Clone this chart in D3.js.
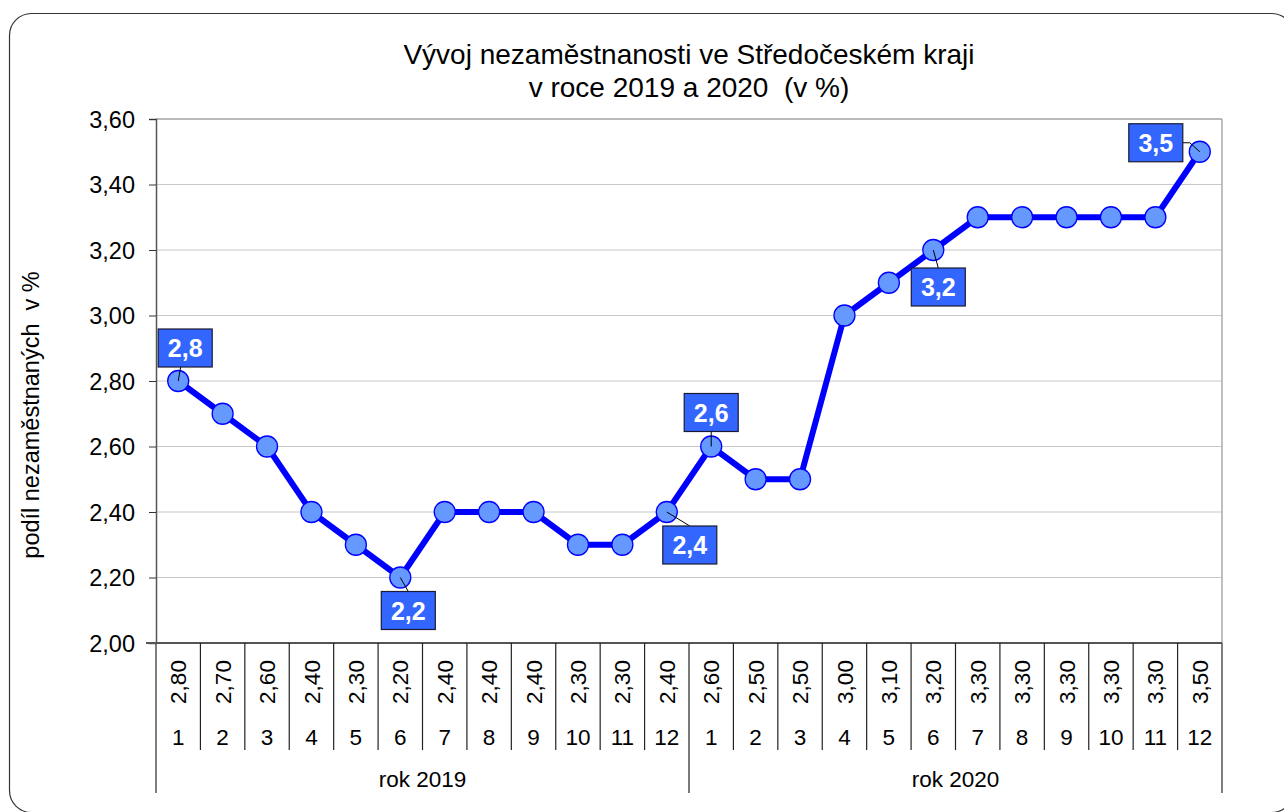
<!DOCTYPE html>
<html><head><meta charset="utf-8">
<script src="https://cdn.jsdelivr.net/npm/d3@7"></script>
<style>body{margin:0;background:#fff;} svg text{font-family:"Liberation Sans",Arial,sans-serif;white-space:pre;}</style>
</head><body><svg id="c" width="1284" height="812"></svg>
<script>
const months = ["1","2","3","4","5","6","7","8","9","10","11","12"];
const years = ["rok 2019","rok 2020"];
const values2019 = [2.8,2.7,2.6,2.4,2.3,2.2,2.4,2.4,2.4,2.3,2.3,2.4];
const values2020 = [2.6,2.5,2.5,3.0,3.1,3.2,3.3,3.3,3.3,3.3,3.3,3.5];
const yTicks = [2.0,2.2,2.4,2.6,2.8,3.0,3.2,3.4,3.6];
const labelled = [[0,"2,8"],[5,"2,2"],[11,"2,4"],[12,"2,6"],[17,"3,2"],[23,"3,5"]];
const labelOffsets = [[7,-33],[8,33],[23,33],[0,-34],[5,37],[-44,-9]];

const data = [];
years.forEach((y,yi)=>{ (yi===0?values2019:values2020).forEach((v,mi)=>data.push({key:yi+"-"+mi, month:months[mi], year:y, v:v})); });

const svg = d3.select("#c");
const fmt = v => d3.format(".2f")(v).replace(".",",");
const L=156, R=1222, T=119, B=643;
const x = d3.scaleBand().domain(data.map(d=>d.key)).range([L,R]).padding(0);
const y = d3.scaleLinear().domain([2.0,3.6]).range([B,T]);

svg.append("rect").attr("x",9.5).attr("y",13.5).attr("width",1284).attr("height",799).attr("rx",22)
  .attr("fill","none").attr("stroke","#333").attr("stroke-width",1.2);

svg.append("g").selectAll("line").data(yTicks.slice(1,-1)).join("line")
  .attr("x1",L).attr("x2",R).attr("y1",d=>y(d)).attr("y2",d=>y(d)).attr("stroke","#c8c8c8").attr("stroke-width",1.2);
svg.append("line").attr("x1",L).attr("x2",R).attr("y1",T).attr("y2",T).attr("stroke","#777").attr("stroke-width",1.2);
svg.append("line").attr("x1",R).attr("x2",R).attr("y1",T).attr("y2",B).attr("stroke","#aaa").attr("stroke-width",1.5);

const ya = svg.append("g").attr("transform",`translate(${L},0)`)
  .call(d3.axisLeft(y).tickValues(yTicks).tickFormat(fmt).tickSize(7).tickPadding(14));
ya.select(".domain").attr("stroke","#555").attr("stroke-width",1.5);
ya.selectAll(".tick line").attr("stroke","#333");
ya.selectAll("text").attr("font-size",23.5).attr("fill","#000").attr("dy","0.36em");

svg.append("line").attr("x1",L-10).attr("x2",R).attr("y1",B).attr("y2",B).attr("stroke","#555").attr("stroke-width",1.8);
svg.append("line").attr("x1",L).attr("x2",L).attr("y1",B).attr("y2",793).attr("stroke","#555").attr("stroke-width",1.5);
svg.append("line").attr("x1",R).attr("x2",R).attr("y1",B).attr("y2",793).attr("stroke","#555").attr("stroke-width",1.5);
const keys = data.map(d=>d.key);
svg.append("g").selectAll("line").data(keys.slice(1)).join("line")
  .attr("x1",d=>x(d)).attr("x2",d=>x(d)).attr("y1",B).attr("y2",d=>d==="1-0"?793:750)
  .attr("stroke","#222").attr("stroke-width",1.2);

svg.append("g").selectAll("text").data(data).join("text")
  .attr("transform",d=>`translate(${x(d.key)+x.bandwidth()/2},682) rotate(-90)`)
  .attr("dy","0.36em").attr("text-anchor","middle").attr("font-size",22.5).text(d=>fmt(d.v));
svg.append("g").selectAll("text").data(data).join("text")
  .attr("x",d=>x(d.key)+x.bandwidth()/2).attr("y",745).attr("text-anchor","middle").attr("font-size",22.5).text(d=>d.month);
svg.append("g").selectAll("text").data(years).join("text")
  .attr("x",(d,i)=>{const ks=keys.filter(k=>k.startsWith(i+"-"));return (x(ks[0])+x(ks[ks.length-1])+x.bandwidth())/2;})
  .attr("y",787).attr("text-anchor","middle").attr("font-size",22.5).text(d=>d);

svg.append("text").attr("x",689).attr("y",64).attr("text-anchor","middle").attr("font-size",28).text("Vývoj nezaměstnanosti ve Středočeském kraji");
svg.append("text").attr("x",689).attr("y",97).attr("text-anchor","middle").attr("font-size",28).text("v roce 2019 a 2020  (v %)");
svg.append("text").attr("transform","translate(39,415) rotate(-90)").attr("text-anchor","middle").attr("font-size",23.5).text("podíl nezaměstnaných  v %");

const cx = d=>x(d.key)+x.bandwidth()/2;
svg.append("path").datum(data).attr("fill","none").attr("stroke","#0000ff").attr("stroke-width",6).attr("stroke-linejoin","round")
  .attr("d",d3.line().x(cx).y(d=>y(d.v)));

function leaders(g){
  labelled.forEach(([i,t],k)=>{
    const d=data[i], px=cx(d), py=y(d.v), [dx,dy]=labelOffsets[k];
    const bx=px+dx, by=py+dy;
    if(k===5){
      g.append("polyline").attr("points",`${px},${py} ${px-10},${py-9} ${bx+27},${py-9}`).attr("fill","none").attr("stroke","#000").attr("stroke-width",1);
    } else {
      const ey = dy<0 ? by+19 : by-19;
      g.append("line").attr("x1",px).attr("y1",py).attr("x2",dy<0? px+dx*0.35 : bx).attr("y2",ey).attr("stroke","#000").attr("stroke-width",1);
    }
  });
}

svg.append("g").selectAll("circle").data(data).join("circle")
  .attr("cx",cx).attr("cy",d=>y(d.v)).attr("r",10.5)
  .attr("fill","#6699ff").attr("stroke","#0000ff").attr("stroke-width",1.3);
leaders(svg.append("g"));

const bg = svg.append("g");
labelled.forEach(([i,t],k)=>{
  const d=data[i], px=cx(d), py=y(d.v), [dx,dy]=labelOffsets[k];
  const bx=px+dx, by=py+dy;
  bg.append("rect").attr("x",bx-27).attr("y",by-19).attr("width",54).attr("height",38)
    .attr("fill","#3366ff").attr("stroke","#1a1a33").attr("stroke-width",1.2);
  bg.append("text").attr("x",bx).attr("y",by+9).attr("text-anchor","middle").attr("font-size",25).attr("font-weight","bold").attr("fill","#fff").text(t);
});
</script></body></html>
